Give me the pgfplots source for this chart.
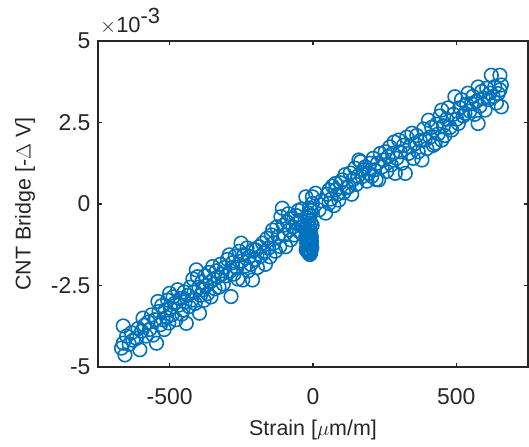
\documentclass[border=0pt]{standalone}
\usepackage{pgfplots}
\pgfplotsset{compat=1.18}
\usepackage{fontspec}
\setmainfont{Liberation Sans}
\definecolor{mblue}{RGB}{0,114,189}
\definecolor{axgray}{RGB}{38,38,38}

\begin{document}
\begin{tikzpicture}
\begin{axis}[
  scale only axis, width=430bp, height=326bp,
  xmin=-750, xmax=750, ymin=-5, ymax=5,
  xtick={-500,0,500}, xticklabels={-500,0,500},
  ytick={-5,-2.5,0,2.5,5}, yticklabels={-5,-2.5,0,2.5,5},
  tick align=inside, major tick length=4bp,
  axis line style={axgray, line width=1.4bp},
  every tick/.style={axgray, line width=1.4bp},
  tick label style={font=\fontsize{23}{26}\selectfont, text=axgray},
  xticklabel style={anchor=base, yshift=-37bp},
  yticklabel style={anchor=east, xshift=-4bp},
  label style={font=\fontsize{21.5}{25}\selectfont, text=axgray},
  xlabel={Strain [$\mu$m/m]},
  ylabel={CNT Bridge [-$\Delta$ V]},
  xlabel style={at={(axis description cs:0.5,-0.1933)}, anchor=center},
  ylabel style={at={(axis description cs:-0.1698,0.5)}, anchor=center},
]
\addplot[only marks, mark=o, mark size=6.8bp, mblue, line width=1.6bp] coordinates {
(-668,-4.42) (-662,-3.74) (-662,-4.27) (-656,-4.63) (-650,-4.05) (-641,-4.30) (-633,-3.95) (-628,-4.18)
(-616,-4.12) (-610,-3.82) (-604,-4.47) (-598,-3.90) (-593,-3.50) (-588,-3.72) (-582,-4.05)
(-575,-3.62) (-570,-3.85) (-563,-3.40) (-558,-4.02) (-552,-3.55) (-546,-4.27) (-541,-2.99) (-537,-3.30)
(-532,-3.70) (-528,-3.12) (-523,-3.55) (-519,-3.85) (-515,-3.25) (-511,-3.48) (-507,-2.95) (-503,-3.65)
(-500,-2.74) (-497,-3.20)
(-492,-3.40) (-488,-2.85) (-483,-3.05) (-478,-3.55) (-472,-2.63) (-468,-3.10) (-463,-2.90) (-458,-3.38)
(-454,-3.25) (-449,-2.70) (-446,-3.00) (-442,-3.66) (-437,-2.80) (-432,-3.15) (-428,-2.55) (-423,-2.95)
(-419,-2.30) (-415,-2.70) (-411,-3.05) (-407,-2.02) (-403,-2.23)
(-398,-2.55) (-396,-3.35) (-392,-2.80) (-388,-2.40) (-384,-2.63) (-380,-2.95) (-376,-2.20) (-372,-2.50)
(-368,-2.75) (-364,-2.10) (-360,-2.40) (-356,-2.85) (-350,-1.92) (-346,-2.30) (-342,-2.60) (-337,-2.05)
(-332,-2.23) (-328,-2.55) (-323,-1.85) (-318,-2.15) (-313,-2.45) (-308,-1.95) (-303,-2.20)
(-298,-1.70) (-292,-1.56) (-288,-2.05) (-286,-2.84) (-281,-1.80) (-276,-2.15) (-271,-1.60) (-266,-1.95)
(-262,-2.30) (-257,-1.45) (-251,-1.20) (-248,-1.75) (-245,-2.33) (-240,-1.55) (-235,-1.90) (-230,-1.35)
(-226,-2.05) (-222,-1.61) (-217,-1.85) (-211,-2.33) (-207,-1.40) (-203,-1.70)
(-199,-1.41) (-194,-1.95) (-188,-1.31) (-183,-1.60) (-176,-1.20) (-171,-1.50) (-166,-1.85) (-160,-1.05)
(-155,-1.35) (-150,-1.62) (-145,-0.95) (-141,-0.80) (-136,-1.20) (-131,-1.45) (-126,-0.70) (-121,-1.00)
(-116,-1.30) (-112,-0.39) (-107,-0.13) (-103,-0.65) (-99,-0.95) (-95,-1.31) (-90,-0.55) (-86,-0.30)
(-83,-0.80) (-78,-1.10) (-74,-0.45) (-70,-0.70) (-65,-0.95) (-60,-0.35) (-56,-0.60) (-51,-0.20)
(-47,-0.85) (-43,-0.50) (-38,-0.15) (-34,-0.70)
(-20,-1.45) (-14,-1.50) (-9,-1.42) (-18,-1.35) (-12,-1.30) (-7,-1.25) (-22,-1.20) (-15,-1.15)
(-10,-1.10) (-17,-1.05) (-6,-1.00) (-13,-0.95) (-20,-0.90) (-9,-0.85) (-16,-0.80) (-11,-0.72)
(-19,-0.65) (-8,-0.58) (-14,-0.50) (-21,-0.42) (-10,-0.35) (-16,-0.28) (-6,-0.20) (-12,-0.12)
(-25,-1.00) (-4,-1.35) (-28,-0.75) (-3,-0.65) (-24,-1.40) (-11,-1.55)
(-17,-1.48) (-13,-1.40) (-8,-1.50) (-19,-1.25) (-5,-1.15) (-15,-1.25) (-22,-1.08) (-10,-1.20)
(-25,0.22) (-2,0.22) (-2,0.02) (9,0.33) (21,-0.18) (30,0.10) (44,-0.28) (50,0.30) (56,0.43) (56,0.02)
(63,0.15) (68,0.55) (73,-0.05) (79,0.63) (79,0.43) (85,0.30) (90,0.12) (96,0.65) (102,0.74) (107,0.35)
(112,0.90) (118,0.50) (125,0.53) (130,0.95) (135,0.30) (140,0.75) (146,1.10) (151,0.60) (156,0.85)
(160,1.35) (166,1.30) (171,0.84) (176,1.05) (183,1.14) (188,0.70) (194,0.94) (199,1.25)
(205,0.85) (210,1.40) (215,1.05) (220,0.75) (225,1.25) (229,0.74) (235,1.55) (241,1.14) (246,1.35)
(252,1.60) (257,1.00) (262,1.45) (268,1.75) (273,1.20) (278,1.55) (283,1.90) (287,0.94) (292,1.40)
(299,1.96) (304,1.60) (310,1.25) (316,1.80) (322,0.94) (327,2.05) (333,1.55) (338,1.75) (345,2.17)
(350,1.40) (356,1.85) (362,2.10) (367,1.60) (374,1.95) (380,1.35) (386,2.30) (391,1.96) (397,1.70)
(403,2.57) (408,2.05) (414,2.35) (420,1.80) (426,1.86) (431,2.45) (437,2.15) (443,2.70) (449,2.88)
(449,1.96) (455,2.40) (460,2.10) (466,2.60) (472,2.95) (478,2.35) (484,2.27) (490,2.75) (495,3.29)
(501,2.60) (507,2.47) (512,2.95) (518,3.20) (524,2.70) (530,2.78) (536,3.05) (541,3.40) (547,2.85)
(553,3.08) (558,3.30) (564,2.75) (570,3.15) (576,2.47) (576,3.59) (582,3.00) (588,3.45) (594,3.25)
(600,2.88) (606,3.55) (611,3.20) (617,3.40) (622,3.95) (628,3.30) (634,3.60) (640,3.10) (646,3.39)
(652,3.95) (652,3.50) (657,2.98) (657,3.65)
};
\end{axis}
\node[anchor=base west, inner sep=0pt, text=axgray]
  at ([shift={(2bp,8bp)}]current axis.north west)
  {\fontsize{22}{26}\selectfont $\times$10\raisebox{0.42em}{-3}};
\pgfresetboundingbox
\path[use as bounding box] ([shift={(-98bp,-79bp)}]current axis.south west) rectangle ([shift={(1bp,41bp)}]current axis.north east);
\end{tikzpicture}
\end{document}
